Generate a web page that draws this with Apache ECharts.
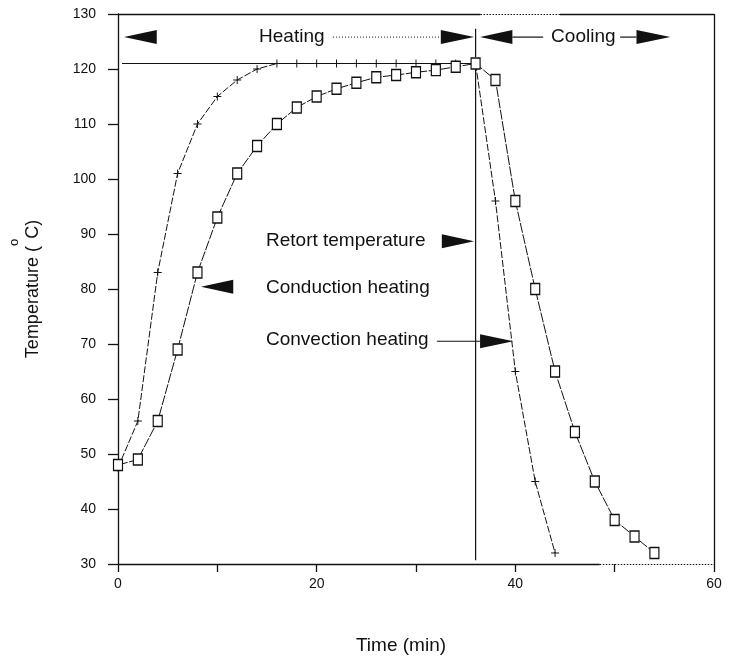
<!DOCTYPE html>
<html>
<head>
<meta charset="utf-8">
<script src="https://cdn.jsdelivr.net/npm/echarts@6/dist/echarts.min.js"></script>
<style>
  html, body { margin: 0; padding: 0; background: #fff; }
  #chart { width: 734px; height: 661px; }
</style>
</head>
<body>
<div id="chart"></div>
<script>
// Time axis (min) and product temperatures (°C) during retort processing
const convectionTime = [0, 2, 4, 6, 8, 10, 12, 14, 16, 18, 20, 22, 24, 26, 28, 30, 32, 34, 36, 38, 40, 42, 44];
const convectionTemp = [47.5, 56, 83, 101, 110, 115, 118, 120, 121, 121, 121, 121, 121, 121, 121, 121, 121, 121, 121, 96, 65, 45, 32];

const conductionTime = [0, 2, 4, 6, 8, 10, 12, 14, 16, 18, 20, 22, 24, 26, 28, 30, 32, 34, 36, 38, 40, 42, 44, 46, 48, 50, 52, 54];
const conductionTemp = [48, 49, 56, 69, 83, 93, 101, 106, 110, 113, 115, 116.4, 117.5, 118.5, 118.9, 119.4, 119.8, 120.4, 121, 118, 96, 80, 65, 54, 45, 38, 35, 32];

// Retort holds at 121 °C, then cooling water is switched on at 36 min
const retortTime = [0.4, 36, 36];
const retortTemp = [121, 121, 30.7];

const xTicks = [0, 20, 40, 60];
const xRange = [0, 60];
const yRange = [30, 130];

const FONT = '"Liberation Sans", Arial, Helvetica, sans-serif';
const INK = '#111';

const zip = (xs, ys) => xs.map((x, i) => [x, ys[i]]);

// Annotation texts, anchored in (time, temperature)
const noteTexts = [
  { text: 'Heating', at: [14.2, 125.8] },
  { text: 'Cooling', at: [43.6, 125.8] },
  { text: 'Retort temperature', at: [14.9, 88.7] },
  { text: 'Conduction heating', at: [14.9, 80.2] },
  { text: 'Convection heating', at: [14.9, 70.8] }
];
// Filled arrowheads: tip and base position along time, at a temperature level
const noteArrows = [
  { tip: 0.6, base: 3.9, level: 125.8 },
  { tip: 35.85, base: 32.5, level: 125.8 },
  { tip: 36.45, base: 39.7, level: 125.8 },
  { tip: 55.6, base: 52.2, level: 125.8 },
  { tip: 35.85, base: 32.6, level: 88.7 },
  { tip: 8.35, base: 11.6, level: 80.4 },
  { tip: 39.8, base: 36.45, level: 70.5 }
];
// Leader lines between labels and arrowheads
const noteLines = [
  { from: [21.65, 125.8], to: [32.5, 125.8], dotted: true },
  { from: [39.7, 125.8], to: [42.8, 125.8] },
  { from: [50.55, 125.8], to: [52.2, 125.8] },
  { from: [32.1, 70.5], to: [36.45, 70.5] },
  { from: [36, 127.3], to: [36, 122.2] }
];

const chart = echarts.init(document.getElementById('chart'), null, { renderer: 'canvas' });

const frameSeg = (a, b, dotted) => [
  { coord: a, lineStyle: { type: dotted ? [1.5, 1.5] : 'solid', width: dotted ? 1.2 : 1.3, color: INK } },
  { coord: b }
];

chart.setOption({
  animation: false,
  backgroundColor: '#fff',
  grid: { left: 118, right: 20, top: 14, bottom: 97, containLabel: false, outerBoundsMode: 'none' },
  xAxis: {
    type: 'value',
    min: xRange[0], max: xRange[1], interval: 10,
    name: 'Time (min)',
    nameLocation: 'middle',
    nameGap: 72,
    nameTextStyle: { fontFamily: FONT, fontSize: 19, color: INK, padding: [0, 30, 0, 0] },
    axisLine: { show: false },
    axisTick: { show: true, length: 8, lineStyle: { color: INK, width: 1.3 } },
    axisLabel: {
      margin: 13, fontFamily: FONT, fontSize: 14, color: INK,
      formatter: v => (xTicks.includes(v) ? String(v) : '')
    },
    splitLine: { show: false }
  },
  yAxis: {
    type: 'value',
    min: yRange[0], max: yRange[1], interval: 10,
    name: '{a|Temperature (}{s|o}{a|C)}',
    nameLocation: 'middle',
    nameGap: 60,
    nameTextStyle: {
      color: INK,
      rich: {
        a: { fontFamily: FONT, fontSize: 18, color: INK, lineHeight: 50 },
        s: { fontFamily: FONT, fontSize: 13, color: INK, verticalAlign: 'top', lineHeight: 14 }
      }
    },
    axisLine: { show: true, lineStyle: { color: INK, width: 1.3 } },
    axisTick: { show: true, length: 10, lineStyle: { color: INK, width: 1.3 } },
    axisLabel: { margin: 22, fontFamily: FONT, fontSize: 14, color: INK },
    splitLine: { show: false }
  },
  series: [
    {
      name: 'Retort temperature',
      type: 'line',
      data: zip(retortTime, retortTemp),
      showSymbol: false,
      clip: false,
      lineStyle: { color: INK, width: 1.2 },
      z: 3,
      // plot frame: top, right and bottom edges
      markLine: {
        silent: true,
        symbol: 'none',
        label: { show: false },
        data: [
          frameSeg([0, 130], [36.5, 130]),
          frameSeg([36.5, 130], [44.5, 130], true),
          frameSeg([44.5, 130], [60, 130]),
          frameSeg([60, 130], [60, 30]),
          frameSeg([0, 30], [48.5, 30]),
          frameSeg([48.5, 30], [60, 30], true)
        ]
      }
    },
    {
      name: 'Convection heating',
      type: 'line',
      data: zip(convectionTime, convectionTemp),
      symbol: 'path://M0,4.4H10V5.6H0Z M4.4,0H5.6V10H4.4Z',
      symbolSize: 8,
      itemStyle: { color: INK },
      lineStyle: { color: INK, width: 1, type: [7, 2] },
      z: 4
    },
    {
      name: 'Conduction heating',
      type: 'line',
      data: zip(conductionTime, conductionTemp),
      symbol: 'rect',
      symbolSize: [9, 11],
      itemStyle: { color: '#fff', borderColor: INK, borderWidth: 1.3 },
      lineStyle: { color: INK, width: 1, type: [10, 1.5] },
      z: 5
    }
  ]
});

// Annotations are placed through the grid's own coordinate conversion
function drawNotes() {
  const px = p => chart.convertToPixel({ gridIndex: 0 }, p);
  const els = [];
  noteTexts.forEach(n => {
    const [x, y] = px(n.at);
    els.push({
      type: 'text', x, y, silent: true,
      style: { text: n.text, fontFamily: FONT, fontSize: 19, fill: INK, align: 'left', verticalAlign: 'middle' }
    });
  });
  noteArrows.forEach(a => {
    const [tx, ty] = px([a.tip, a.level]);
    const [bx] = px([a.base, a.level]);
    els.push({
      type: 'polygon', silent: true,
      shape: { points: [[tx, ty], [bx, ty - 7], [bx, ty + 7]] },
      style: { fill: INK }
    });
  });
  noteLines.forEach(l => {
    const [x1, y1] = px(l.from);
    const [x2, y2] = px(l.to);
    els.push({
      type: 'line', silent: true,
      shape: { x1, y1, x2, y2 },
      style: { stroke: INK, lineWidth: l.dotted ? 1 : 1.2, lineDash: l.dotted ? [1, 2] : null }
    });
  });
  chart.setOption({ graphic: { elements: els } });
}
drawNotes();
</script>
</body>
</html>
